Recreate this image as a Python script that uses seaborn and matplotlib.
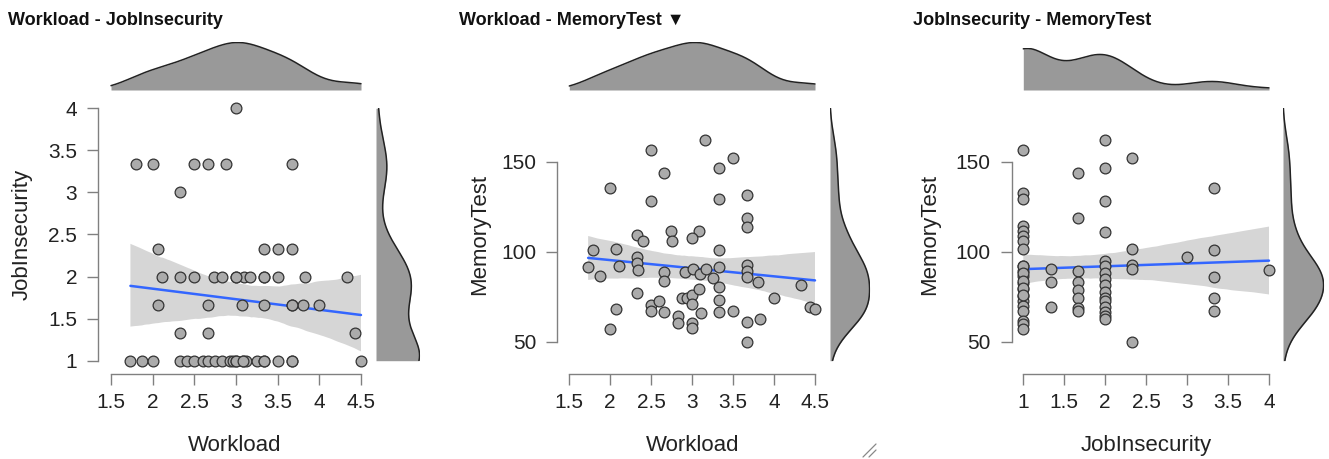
import numpy as np
import pandas as pd
import matplotlib
matplotlib.use("Agg")
import matplotlib.pyplot as plt
import seaborn as sns
from matplotlib.lines import Line2D

# ---------------- data (a few overlapping points estimated) ----------------
p1_workload = [3.0,
               1.8, 2.0, 2.5, 2.667, 2.875, 3.667,
               2.333,
               2.067, 3.333, 3.5, 3.667,
               2.11, 2.333, 2.5, 2.733, 2.833, 3.0, 3.1, 3.167, 3.333, 3.5, 3.833, 4.333,
               3.0, 3.333,
               2.067, 2.667, 3.067, 3.333, 3.667, 3.8, 4.0, 3.667,
               2.333, 2.667, 4.433,
               1.733, 1.867, 2.0, 2.333, 2.417, 2.5, 2.6, 2.667, 2.75, 2.833, 2.933, 2.967,
               3.0, 3.083, 3.117, 3.25, 3.333, 3.667, 4.5,
               3.0, 3.083, 3.333, 3.667, 3.5]
p1_jobinsecurity = [4.0,
                    3.333, 3.333, 3.333, 3.333, 3.333, 3.333,
                    3.0,
                    2.333, 2.333, 2.333, 2.333,
                    2.0, 2.0, 2.0, 2.0, 2.0, 2.0, 2.0, 2.0, 2.0, 2.0, 2.0, 2.0,
                    2.0, 2.0,
                    1.667, 1.667, 1.667, 1.667, 1.667, 1.667, 1.667, 1.667,
                    1.333, 1.333, 1.333,
                    1.0, 1.0, 1.0, 1.0, 1.0, 1.0, 1.0, 1.0, 1.0, 1.0, 1.0, 1.0,
                    1.0, 1.0, 1.0, 1.0, 1.0, 1.0, 1.0,
                    1.0, 1.0, 1.0, 1.0, 1.0]

p2_workload = [3.16, 2.50, 3.50, 3.33, 2.66, 2.00, 2.50, 3.33, 3.67, 3.67,
               3.67, 2.33, 2.40, 2.74, 2.75, 3.08, 3.00, 1.79, 2.07, 3.33,
               1.73, 1.87, 2.11, 2.33, 2.33, 2.34, 2.66, 2.66, 2.91, 3.01,
               3.10, 3.17, 3.26, 3.33, 3.33, 3.67, 3.67, 3.67, 3.80, 4.33,
               2.33, 2.07, 2.50, 2.50, 2.60, 2.66, 2.00, 2.83, 2.83, 2.88,
               2.94, 3.00, 3.00, 3.08, 3.00, 3.00, 3.11, 3.33, 3.33, 3.50,
               3.67, 3.83, 3.67, 4.00, 4.44, 4.50]
p2_memorytest = [161.8, 156.5, 151.9, 146.3, 143.9, 135.6, 128.3, 129.1, 131.3, 118.9,
                 113.9, 109.3, 105.7, 111.3, 106.1, 111.5, 107.4, 100.7, 101.7, 100.9,
                 91.5, 86.7, 92.0, 97.2, 93.5, 89.8, 88.7, 83.5, 88.7, 90.2,
                 87.4, 90.6, 85.6, 91.5, 80.4, 92.8, 89.1, 86.1, 83.3, 81.7,
                 77.0, 68.3, 70.6, 67.2, 72.6, 66.7, 57.0, 64.3, 60.2, 74.3,
                 74.4, 75.9, 71.1, 79.4, 60.2, 57.8, 66.1, 73.0, 66.5, 66.9,
                 60.9, 62.8, 49.8, 74.1, 69.4, 68.3]

p3_jobinsecurity = [1.0] * 25 + [1.333] * 3 + [1.667] * 8 + [2.0] * 16 + [2.333] * 5 + [3.0] + [3.333] * 5 + [4.0]
p3_memorytest = [156.5, 132.4, 129.1, 114.3, 111.5, 108.7, 106.0, 101.3, 92.0, 89.3,
                 86.5, 82.8, 79.1, 75.4, 72.6, 69.8, 67.0, 61.5, 59.6, 56.9,
                 92.0, 88.0, 84.0, 80.0, 76.0,
                 90.2, 83.3, 69.3,
                 143.9, 118.9, 89.3, 83.3, 78.7, 74.1, 68.9, 67.0,
                 161.9, 146.3, 128.3, 111.1, 94.8, 92.0, 88.3, 85.0, 81.5, 77.6,
                 74.1, 72.6, 69.4, 66.5, 64.3, 62.4,
                 151.9, 101.5, 92.6, 90.6, 49.8,
                 96.9,
                 135.6, 100.7, 86.1, 74.1, 67.0,
                 89.8]

titles = ["Workload - JobInsecurity", "Workload - MemoryTest \u25BC", "JobInsecurity - MemoryTest"]
workload_ticks = [1.5, 2, 2.5, 3, 3.5, 4, 4.5]
jobins_ticks = [1, 1.5, 2, 2.5, 3, 3.5, 4]
memory_ticks = [50, 100, 150]

# ---------------- style ----------------
sns.set_style("white")
plt.rcParams["font.family"] = ["Liberation Sans", "DejaVu Sans"]

W, H = 1329, 459
fig = plt.figure(figsize=(W / 100, H / 100), dpi=100)

def add_px(l, t, r, b):
    return fig.add_axes([l / W, 1 - b / H, (r - l) / W, (b - t) / H])

def lims(p_lo, p_hi, v0, p0, v1, p1):
    k = (v1 - v0) / (p1 - p0)
    return v0 + (p_lo - p0) * k, v0 + (p_hi - p0) * k

FILL = "#999999"
KDE = dict(bw_method="silverman", bw_adjust=0.85)

panels = [
    dict(x=p1_workload, y=p1_jobinsecurity, xlabel="Workload", ylabel="JobInsecurity",
         xt=workload_ticks, yt=jobins_ticks, box=(98, 95, 372, 374),
         xmap=(1.5, 111, 4.5, 361), ymap=(1, 360.7, 4, 108.3),
         title_x=8, ylab_x=-0.24, top=(42, 90), right=(376, 420)),
    dict(x=p2_workload, y=p2_memorytest, xlabel="Workload", ylabel="MemoryTest",
         xt=workload_ticks, yt=memory_ticks, box=(557, 95, 828, 374),
         xmap=(1.5, 569.3, 4.5, 815), ymap=(50, 341.7, 150, 161.7),
         title_x=459, ylab_x=-0.247, top=(42, 90), right=(830, 870)),
    dict(x=p3_jobinsecurity, y=p3_memorytest, xlabel="JobInsecurity", ylabel="MemoryTest",
         xt=jobins_ticks, yt=memory_ticks, box=(1011.5, 95, 1280, 374),
         xmap=(1, 1023.3, 4, 1269), ymap=(50, 341.7, 150, 161.7),
         title_x=913, ylab_x=-0.266, top=(48, 90), right=(1283, 1324)),
]

MARG_T, MARG_B = 108.3, 360.7

for i, P in enumerate(panels):
    l, t, r, b = P["box"]
    ax = add_px(l, t, r, b)
    xlim = lims(l, r, *P["xmap"])
    ylim = lims(b, t, *P["ymap"])
    x = np.asarray(P["x"], float)
    y = np.asarray(P["y"], float)

    sns.regplot(x=x, y=y, ax=ax, scatter=False, ci=95, n_boot=1000, seed=7,
                color="#3366FF", line_kws={"lw": 1.8, "zorder": 2})
    for c in ax.collections:
        c.set_facecolor("#d6d6d6")
        c.set_alpha(1)
        c.set_edgecolor("none")
        c.set_zorder(1)
    sns.scatterplot(x=x, y=y, ax=ax, s=60, color="#ababab", edgecolor="#333333",
                    linewidth=0.9, zorder=3, legend=False)

    ax.set_xlim(xlim)
    ax.set_ylim(ylim)
    ax.set_xticks(P["xt"], labels=[f"{v:g}" for v in P["xt"]])
    ax.set_yticks(P["yt"], labels=[f"{v:g}" for v in P["yt"]])
    for s in ["top", "right"]:
        ax.spines[s].set_visible(False)
    ax.spines["left"].set_bounds(P["yt"][0], P["yt"][-1])
    ax.spines["bottom"].set_bounds(P["xt"][0], P["xt"][-1])
    for s in ["left", "bottom"]:
        ax.spines[s].set_color("#808080")
        ax.spines[s].set_linewidth(1.0)
    ax.tick_params(axis="both", bottom=True, left=True, direction="out", length=8,
                   width=1.0, color="#808080", labelsize=15, labelcolor="#222222")
    ax.tick_params(axis="x", pad=6)
    ax.tick_params(axis="y", pad=7)
    ax.set_xlabel(P["xlabel"], fontsize=16, color="#222222")
    ax.set_ylabel(P["ylabel"], fontsize=16, color="#222222")
    ax.xaxis.set_label_coords(0.5, -0.22)
    ax.yaxis.set_label_coords(P["ylab_x"], 0.5)
    ax.set_facecolor("none")

    # top marginal density (clipped to axis tick range)
    tt, tb = P["top"]
    axt = add_px(l, tt, r, tb)
    clipx = (P["xt"][0], P["xt"][-1])
    sns.kdeplot(x=x, ax=axt, fill=True, color=FILL, alpha=1, linewidth=0, clip=clipx, **KDE)
    sns.kdeplot(x=x, ax=axt, fill=False, color="#222222", linewidth=1.1, clip=clipx, **KDE)
    peak = axt.lines[0].get_ydata().max()
    axt.set_xlim(xlim)
    axt.set_ylim(0, peak * 1.01)
    axt.axis("off")

    # right marginal density, same vertical scale as the scatter, spanning a fixed pixel band
    rl, rr = P["right"]
    axr = add_px(rl, MARG_T, rr, MARG_B)
    mlim = lims(MARG_B, MARG_T, *P["ymap"])
    sns.kdeplot(y=y, ax=axr, fill=True, color=FILL, alpha=1, linewidth=0, clip=mlim, **KDE)
    sns.kdeplot(y=y, ax=axr, fill=False, color="#222222", linewidth=1.1, clip=mlim, **KDE)
    axr.set_ylim(mlim)
    pk = axr.lines[0].get_xdata().max()
    axr.set_xlim(0, pk * 1.01)
    axr.axis("off")

    fig.text(P["title_x"] / W, 1 - 25 / H, titles[i], fontsize=13, fontweight="bold",
             ha="left", va="baseline", color="#111111")

# small resize handle mark in the reference corner
for (x0, y0, x1, y1) in [(863, 457, 876, 444), (869, 457, 876, 450)]:
    fig.add_artist(Line2D([x0 / W, x1 / W], [1 - y0 / H, 1 - y1 / H],
                          transform=fig.transFigure, color="#888888", lw=0.9))

fig.savefig("out.png", dpi=100, facecolor="white")
